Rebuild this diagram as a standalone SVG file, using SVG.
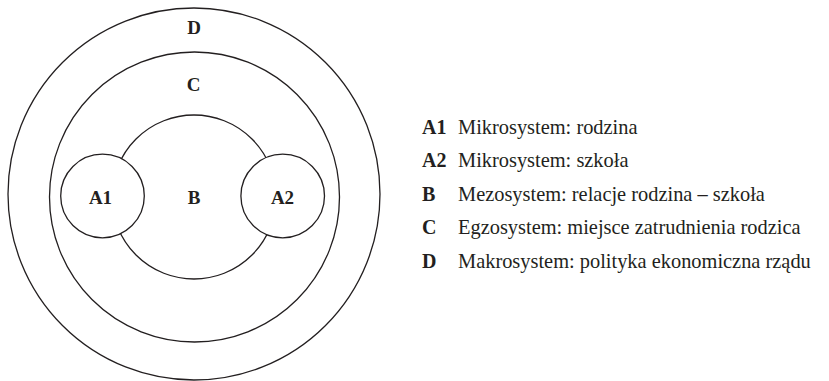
<svg xmlns="http://www.w3.org/2000/svg" width="829" height="381" viewBox="0 0 829 381">
  <style>
    .ring { fill: #ffffff; stroke: #231f20; stroke-width: 1.3; }
    text { font-family: "Liberation Serif", Tinos, "Times New Roman", Times, "Nimbus Roman", "Noto Serif", "DejaVu Serif", serif; fill: #231f20; }
    .lbl { font-weight: bold; font-size: 19px; text-anchor: middle; }
    .key { font-weight: bold; font-size: 20px; }
    .desc { font-size: 20.4px; }
  </style>
  <rect width="829" height="381" fill="#ffffff"/>

  <!-- nested systems -->
  <g id="node-D">
    <circle class="ring" cx="194" cy="194" r="186"/>
    <text class="lbl" x="194" y="34">D</text>
  </g>
  <g id="node-C">
    <circle class="ring" cx="194.5" cy="197" r="145"/>
    <text class="lbl" x="193.5" y="91">C</text>
  </g>
  <g id="node-B">
    <circle class="ring" cx="194" cy="197" r="82"/>
    <text class="lbl" x="194" y="204">B</text>
  </g>
  <g id="node-A1">
    <circle class="ring" cx="102.5" cy="196" r="41.8"/>
    <text class="lbl" x="100.5" y="204">A1</text>
  </g>
  <g id="node-A2">
    <circle class="ring" cx="282.7" cy="196" r="41.8"/>
    <text class="lbl" x="282.5" y="204">A2</text>
  </g>

  <g id="connectors"></g>

  <!-- legend -->
  <g id="legend">
    <text class="key" x="422" y="134">A1</text>
    <text class="desc" x="458" y="134">Mikrosystem: rodzina</text>
    <text class="key" x="422" y="167">A2</text>
    <text class="desc" x="458" y="167">Mikrosystem: szkoła</text>
    <text class="key" x="422" y="201">B</text>
    <text class="desc" x="458" y="201">Mezosystem: relacje rodzina – szkoła</text>
    <text class="key" x="422" y="234">C</text>
    <text class="desc" x="458" y="234">Egzosystem: miejsce zatrudnienia rodzica</text>
    <text class="key" x="422" y="268">D</text>
    <text class="desc" x="458" y="268">Makrosystem: polityka ekonomiczna rządu</text>
  </g>
</svg>
